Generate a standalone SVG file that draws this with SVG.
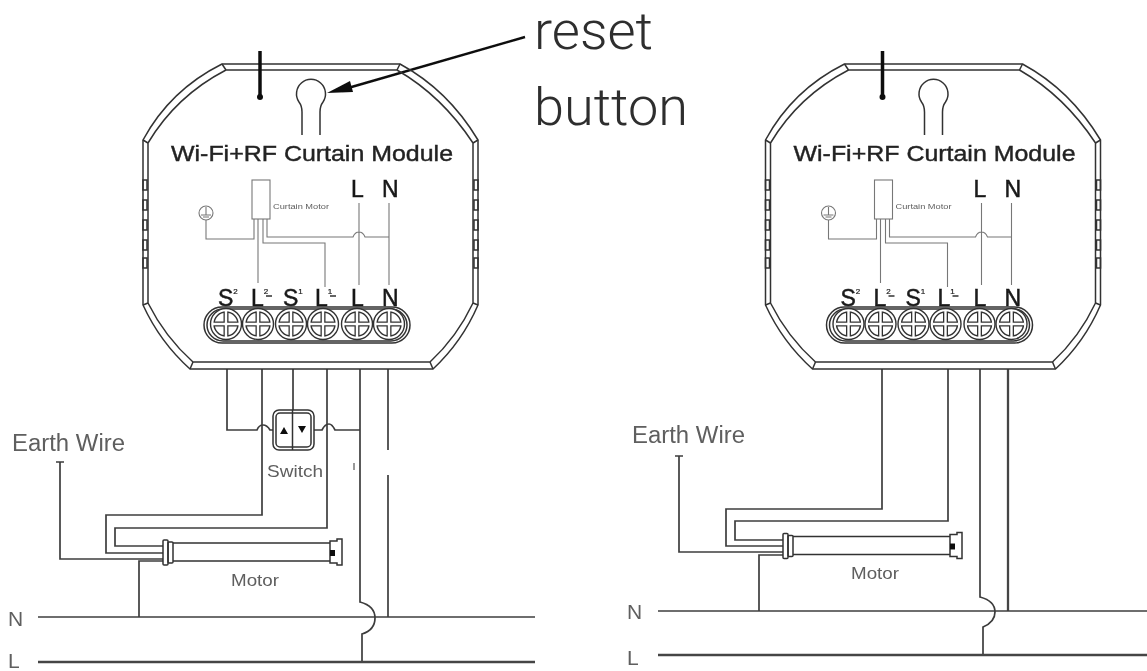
<svg xmlns="http://www.w3.org/2000/svg" xmlns:xlink="http://www.w3.org/1999/xlink" width="1147" height="671" viewBox="0 0 1147 671">
<style>
text{font-family:"Liberation Sans",Arial,sans-serif}
.w{fill:none;stroke:#3c3c3c;stroke-width:1.7;stroke-linejoin:miter}
.w2{fill:none;stroke:#444;stroke-width:2.300}
.f{fill:none;stroke:#777;stroke-width:1.100}
.s{fill:none;stroke:#333;stroke-width:1.500}
.g{fill:#5e5e5e}
.title{font-size:22px;fill:#222;stroke:#222;stroke-width:.4}
.term{font-size:23px;fill:#1a1a1a;stroke:#1a1a1a;stroke-width:.5}
.sm{font-size:8px;stroke-width:.2}
.lab{font-size:23px}
.sl{font-size:17px}
.nl{font-size:21px}
.big{font-size:51px;fill:#2e2e2e;font-family:"Roboto","Liberation Sans",sans-serif;font-weight:300}
</style>
<defs>
<filter id="b" x="-5%" y="-5%" width="110%" height="110%"><feGaussianBlur stdDeviation="0.45"/></filter>
<g id="shell">
<path class="s" d="M222,64H400Q448,90 478,140V305Q462,342 433,369H190Q160,342 143,305V140Q170,90 222,64Z"/>
<path class="s" d="M226,70H397Q442,96 473,143V303Q457,337 430,362H193Q165,337 148,303V143Q176,96 226,70Z"/>
<path class="s" d="M222,64L226,70M400,64L397,70M143,140L148,143M478,140L473,143M143,305L148,303M478,305L473,303M190,369L193,362M433,369L430,362"/>
<path class="s" d="M143,180h4v10h-4zM143,200h4v10h-4zM143,220h4v10h-4zM143,240h4v10h-4zM143,258h4v10h-4zM474,180h4v10h-4zM474,200h4v10h-4zM474,220h4v10h-4zM474,240h4v10h-4zM474,258h4v10h-4z"/>
<path d="M260,51V97" fill="none" stroke="#111" stroke-width="3.500"/>
<circle cx="260" cy="97" r="3" fill="#111"/>
<path class="s" d="M302,135V112Q302,106 299,102A14.500,14.500 0 1 1 323,102Q320,106 320,112V135"/>
<rect class="f" x="252" y="180" width="18" height="39"/>
<circle class="f" cx="206" cy="213" r="7"/>
<path class="f" d="M206,207V215M201,215H211M203,217H209M206,220V239H254V219M258,219V283M263,219V243H325V287M267,219V237H353Q355,232 359,232Q363,232 365,237H389M359,203V285M389,203V285"/>
<rect class="s" x="204" y="307" width="206" height="36" rx="18"/>
<rect class="s" x="207" y="309" width="200" height="32" rx="16"/>
<use href="#screw" x="226" y="324"/><use href="#screw" x="258" y="324"/><use href="#screw" x="291" y="324"/><use href="#screw" x="323" y="324"/><use href="#screw" x="357" y="324"/><use href="#screw" x="389" y="324"/>
<path class="s" d="M266,296H272M330,296H336"/>
</g>
<g id="screw">
<circle r="15.500" fill="#fff" stroke="#333" stroke-width="1.400"/>
<circle r="12" fill="#fff" stroke="#333" stroke-width="1.400"/>
<path d="M-12,0H12M0,-12V12" stroke="#333" stroke-width="5"/>
<path d="M-13,0H13M0,-13V13" stroke="#fff" stroke-width="2.400"/>
</g>
<g id="tube">
<path class="s" d="M173,543H330M173,561H330"/>
<rect class="s" x="163" y="540" width="5" height="25" rx="1"/>
<rect class="s" x="168" y="542" width="5" height="21" rx="1"/>
<path class="s" d="M330,541H337V539H342V565H337V563H330Z"/>
<rect x="330" y="550" width="5" height="6" fill="#111"/>
</g>
</defs>
<g filter="url(#b)">
<g id="connectors">
<path class="w" d="M227,369V430H257Q259,425 263,425Q267,425 270,430H273"/>
<path class="w" d="M262,369V515H106V553H163"/>
<path class="w" d="M293,369V410"/>
<path class="w" d="M314,430H322Q325,424 329,424Q332,424 335,430H360"/>
<path class="w" d="M327,369V528H115V546H163"/>
<path class="w" d="M360,369V602Q375,606 375,618Q375,630 362,634V662"/>
<path class="w" d="M388,369V450M388,475V617"/>
<path d="M354,463V470" stroke="#777" stroke-width="1.500"/>
<path class="w" d="M60,462V559H163M56,462H64"/>
<path class="w" d="M139,617V561H163"/>
<path class="w" d="M38,617H535"/>
<path class="w2" d="M38,662H535"/>
<path class="w" d="M882,369V509H726V546H783"/>
<path class="w" d="M948,369V521H735V540H783"/>
<path class="w" d="M980,369V597Q995,601 995,612Q995,622 983,627V655"/>
<path class="w2" d="M1008,369V611"/>
<path class="w" d="M679,456V552H783M675,456H683"/>
<path class="w" d="M759,611V555H783"/>
<path class="w" d="M658,611H1147"/>
<path class="w2" d="M658,655H1147"/>
<path d="M525,37L348,88" fill="none" stroke="#111" stroke-width="2.500"/>
<path d="M327,93L350,81L353,92Z" fill="#111"/>
</g>
<g id="module-left">
<use href="#shell"/>
<text class="title" x="171" y="161" textLength="282" lengthAdjust="spacingAndGlyphs">Wi-Fi+RF Curtain Module</text>
<text class="g" x="273" y="209" font-size="7.500" textLength="56" lengthAdjust="spacingAndGlyphs">Curtain Motor</text>
<text class="term" x="351" y="197">L</text><text class="term" x="382" y="197">N</text>
<text class="term" x="218" y="306">S<tspan class="sm" dy="-12">2</tspan></text>
<text class="term" x="251" y="306">L<tspan class="sm" dy="-12">2</tspan></text>
<text class="term" x="283" y="306">S<tspan class="sm" dy="-12">1</tspan></text>
<text class="term" x="315" y="306">L<tspan class="sm" dy="-12">1</tspan></text>
<text class="term" x="351" y="306">L</text><text class="term" x="382" y="306">N</text>
</g>
<g id="module-right" transform="translate(622.500,0)">
<use href="#shell"/>
<text class="title" x="171" y="161" textLength="282" lengthAdjust="spacingAndGlyphs">Wi-Fi+RF Curtain Module</text>
<text class="g" x="273" y="209" font-size="7.500" textLength="56" lengthAdjust="spacingAndGlyphs">Curtain Motor</text>
<text class="term" x="351" y="197">L</text><text class="term" x="382" y="197">N</text>
<text class="term" x="218" y="306">S<tspan class="sm" dy="-12">2</tspan></text>
<text class="term" x="251" y="306">L<tspan class="sm" dy="-12">2</tspan></text>
<text class="term" x="283" y="306">S<tspan class="sm" dy="-12">1</tspan></text>
<text class="term" x="315" y="306">L<tspan class="sm" dy="-12">1</tspan></text>
<text class="term" x="351" y="306">L</text><text class="term" x="382" y="306">N</text>
</g>
<g id="switch">
<rect class="s" x="273" y="410" width="41" height="40" rx="6"/>
<rect class="s" x="276" y="413" width="35" height="34" rx="4"/>
<path class="s" d="M292.500,410V450"/>
<path d="M280,434H288L284,427ZM298,426H306L302,433Z" fill="#111"/>
<text class="g sl" x="267" y="477" textLength="56" lengthAdjust="spacingAndGlyphs">Switch</text>
</g>
<g id="motor-left">
<use href="#tube"/>
<text class="g sl" x="231" y="586" textLength="48" lengthAdjust="spacingAndGlyphs">Motor</text>
</g>
<g id="motor-right">
<use href="#tube" x="620" y="-6.500"/>
<text class="g sl" x="851" y="579" textLength="48" lengthAdjust="spacingAndGlyphs">Motor</text>
</g>
<g id="labels">
<text class="g lab" x="12" y="451" textLength="113" lengthAdjust="spacingAndGlyphs">Earth Wire</text>
<text class="g lab" x="632" y="443" textLength="113" lengthAdjust="spacingAndGlyphs">Earth Wire</text>
<text class="g nl" x="8" y="626">N</text>
<text class="g nl" x="8" y="668">L</text>
<text class="g nl" x="627" y="619">N</text>
<text class="g nl" x="627" y="665">L</text>
<text class="big" x="534" y="49" textLength="119" lengthAdjust="spacingAndGlyphs">reset</text>
<text class="big" x="534" y="125" textLength="154" lengthAdjust="spacingAndGlyphs">button</text>
</g>
</g>
</svg>
